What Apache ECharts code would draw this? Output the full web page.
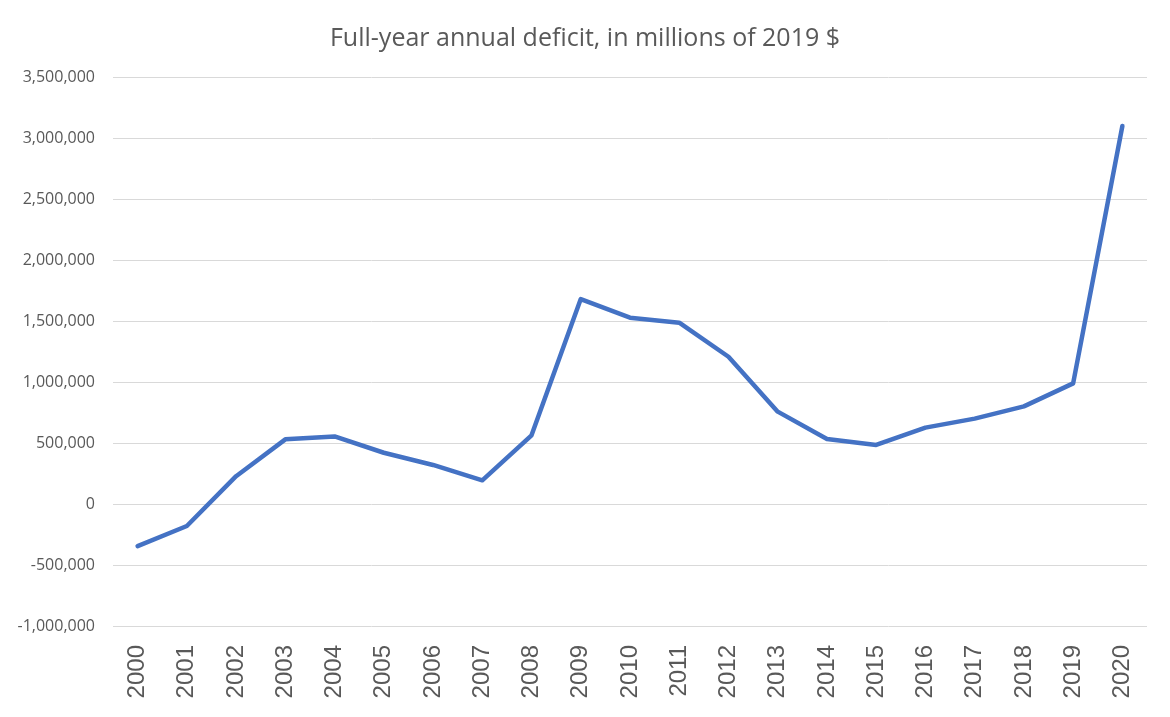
<!DOCTYPE html>
<html>
<head>
<meta charset="utf-8">
<script src="https://cdn.jsdelivr.net/npm/echarts@6/dist/echarts.min.js"></script>
<style>
html,body{margin:0;padding:0;background:#fff;}
#main{width:1170px;height:717px;}
</style>
</head>
<body>
<div id="main"></div>
<script>
// data
var years = ['2000','2001','2002','2003','2004','2005','2006','2007','2008','2009','2010',
             '2011','2012','2013','2014','2015','2016','2017','2018','2019','2020']
var deficit = [-345000,-180000,228000,530000,554000,420000,320000,194000,563000,1680000,1527000,
               1486000,1207000,757000,533000,484000,626000,700000,800000,989000,3098000]
var y_min = -1000000
var y_max = 3500000
var y_step = 500000

var chartDom = document.getElementById('main');
var myChart = echarts.init(chartDom);
var option;

function fmt(v){
    return v.toLocaleString('en-US')
}

option = {
    animation: false,
    title: {
        text: 'Full-year annual deficit, in millions of 2019 $',
        left: 'center',
        top: 21,
        textStyle: {
            fontFamily: 'Open Sans',
            fontSize: 25,
            fontWeight: 'normal',
            color: '#595959'
        }
    },
    grid: {
        left: 113,
        right: 23,
        top: 77,
        bottom: 91
    },
    xAxis: {
        type: 'category',
        data: years,
        boundaryGap: true,
        axisLine: { show: false },
        axisTick: { show: false },
        axisLabel: {
            rotate: 90,
            margin: 19,
            fontFamily: 'Liberation Sans',
            fontSize: 24,
            color: '#595959'
        }
    },
    yAxis: {
        type: 'value',
        min: y_min,
        max: y_max,
        interval: y_step,
        axisLine: { show: false },
        axisTick: { show: false },
        splitLine: { lineStyle: { color: '#d9d9d9', width: 1 } },
        axisLabel: {
            margin: 18,
            fontFamily: 'Open Sans',
            fontSize: 16,
            color: '#595959',
            formatter: fmt
        }
    },
    series: [
        {
            name: 'Deficit',
            type: 'line',
            data: deficit,
            symbol: 'none',
            lineStyle: { color: '#4472c4', width: 4.5, cap: 'round', join: 'round' }
        }
    ]
}
option && myChart.setOption(option);
</script>
</body>
</html>
